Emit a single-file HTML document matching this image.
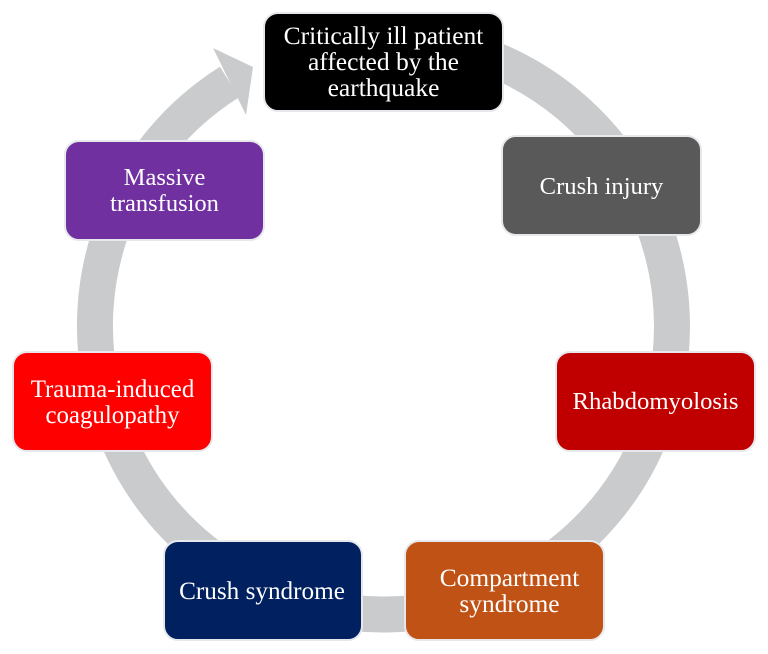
<!DOCTYPE html>
<html>
<head>
<meta charset="utf-8">
<style>
html,body{margin:0;padding:0;background:#fff;}
#c{position:relative;width:768px;height:654px;overflow:hidden;background:#fff;font-family:"Liberation Serif",serif;}
svg{position:absolute;left:0;top:0;}
.n{position:absolute;box-sizing:border-box;border:2px solid #e6e8ec;border-radius:15px;color:#fff;font-size:25px;line-height:26px;text-align:center;display:flex;align-items:center;justify-content:center;white-space:nowrap;padding-top:1px;}
</style>
</head>
<body>
<div id="c">
<svg width="768" height="654" viewBox="0 0 768 654">
<path d="M383.5 37.5 A288.5 288.5 0 1 1 229.5 82" fill="none" stroke="#c9cbcd" stroke-width="36"/>
<polygon points="253,67 213,48 246,115" fill="#c9cbcd"/>
</svg>
<div class="n" style="left:263px;top:12px;width:241px;height:100px;background:#000;font-size:25.5px;padding-top:0;padding-bottom:1px;">Critically ill patient<br>affected by the<br>earthquake</div>
<div class="n" style="left:501px;top:135px;width:201px;height:101px;background:#595959;font-size:24.6px;padding-top:3px;">Crush injury</div>
<div class="n" style="left:555px;top:351px;width:201px;height:101px;background:#c00000;font-size:24.7px;">Rhabdomyolosis</div>
<div class="n" style="left:404px;top:540px;width:201px;height:101px;background:#c05215;font-size:25.4px;padding-left:10px;">Compartment<br>syndrome</div>
<div class="n" style="left:163px;top:540px;width:200px;height:101px;background:#002060;font-size:25.2px;padding-top:3px;padding-right:2px;">Crush syndrome</div>
<div class="n" style="left:12px;top:351px;width:201px;height:101px;background:#ff0000;font-size:24.9px;padding-top:3px;">Trauma-induced<br>coagulopathy</div>
<div class="n" style="left:64px;top:140px;width:201px;height:101px;background:#7030a0;font-size:24.5px;">Massive<br>transfusion</div>
</div>
</body>
</html>
